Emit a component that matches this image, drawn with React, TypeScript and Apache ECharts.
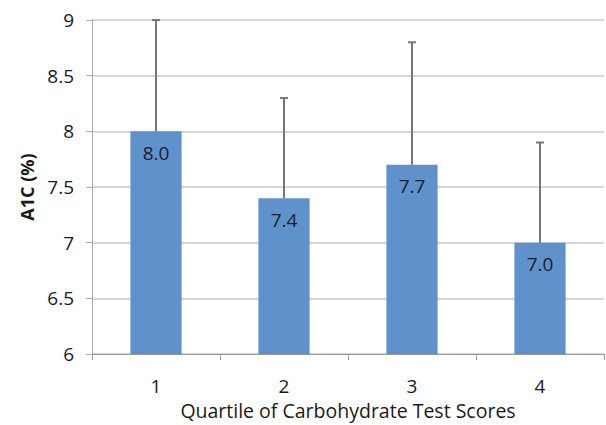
import React, { useEffect, useRef } from "react";
import * as echarts from "echarts";

const categories = ["1", "2", "3", "4"];
const meanValues = [8.0, 7.4, 7.7, 7.0];
const upperValues = [9.0, 8.3, 8.8, 7.9];
const yTicks = { min: 6, max: 9, interval: 0.5 };

export default function App() {
  const ref = useRef<HTMLDivElement>(null);
  useEffect(() => {
    if (!ref.current) return;
    const chart = echarts.init(ref.current, undefined, { renderer: "svg" });
    const font = "'Open Sans', 'DejaVu Sans', sans-serif";
    chart.setOption({
      animation: false,
      grid: { left: 92, right: 2, top: 20, bottom: 61 },
      xAxis: {
        type: "category",
        data: categories,
        name: "Quartile of Carbohydrate Test Scores",
        nameLocation: "middle",
        nameGap: 38,
        nameTextStyle: { fontFamily: font, fontSize: 19.5, color: "#1a1a1a" },
        axisLine: { lineStyle: { color: "#999" } },
        axisTick: { show: true, alignWithLabel: false, length: 6, lineStyle: { color: "#999" } },
        axisLabel: { fontFamily: font, fontSize: 19, color: "#1a1a1a", margin: 22 },
        splitLine: { show: false },
      },
      yAxis: {
        type: "value",
        min: yTicks.min,
        max: yTicks.max,
        interval: yTicks.interval,
        name: "A1C (%)",
        nameLocation: "middle",
        nameGap: 53,
        nameRotate: 90,
        nameTextStyle: { fontFamily: font, fontSize: 18, color: "#1a1a1a", fontWeight: "bold" },
        axisLine: { show: true, lineStyle: { color: "#aaa" } },
        axisTick: { show: true, length: 6, lineStyle: { color: "#aaa" } },
        axisLabel: { fontFamily: font, fontSize: 19, color: "#1a1a1a", margin: 18 },
        splitLine: { show: true, lineStyle: { color: "#c8c8c8", width: 1.5 } },
      },
      series: [
        {
          type: "bar",
          data: meanValues,
          barWidth: "40%",
          itemStyle: { color: "#5f92ca" },
          label: {
            show: true,
            position: "insideTop",
            distance: 12,
            formatter: (p: any) => p.value.toFixed(1),
            fontFamily: font,
            fontSize: 19,
            color: "#1c1c30",
          },
          z: 2,
        },
        {
          type: "custom",
          data: categories.map((_, i) => [i, meanValues[i], upperValues[i]]),
          renderItem: (params: any, api: any) => {
            const x = api.value(0);
            const lo = api.coord([x, api.value(1)]);
            const hi = api.coord([x, api.value(2)]);
            const cap = 4;
            const style = { stroke: "#777", lineWidth: 2 };
            return {
              type: "group",
              children: [
                { type: "line", shape: { x1: lo[0], y1: lo[1], x2: hi[0], y2: hi[1] }, style },
                { type: "line", shape: { x1: hi[0] - cap, y1: hi[1], x2: hi[0] + cap, y2: hi[1] }, style },
              ],
            };
          },
          z: 3,
        },
      ],
    });
    return () => chart.dispose();
  }, []);
  return (
    <div
      ref={ref}
      style={{ position: "fixed", left: 0, top: 0, width: 606, height: 425, background: "#fff" }}
    />
  );
}
